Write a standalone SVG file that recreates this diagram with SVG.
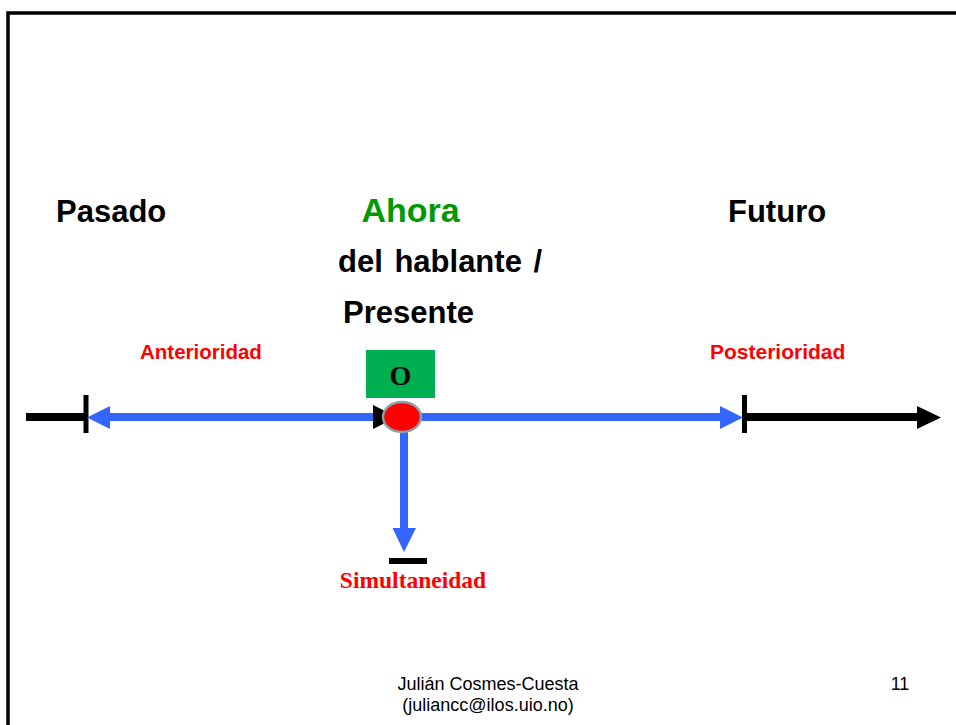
<svg xmlns="http://www.w3.org/2000/svg" width="956" height="725" viewBox="0 0 956 725">
<style>
.sans{font-family:"Liberation Sans",Arial,sans-serif;}
.serif{font-family:"Liberation Serif","Times New Roman",serif;}
.big{font-size:31px;font-weight:bold;fill:#000;}
.red{fill:#FF0000;font-weight:bold;}
.blue{stroke:#3366FF;stroke-width:8;fill:none;}
.blk{stroke:#000;fill:none;}
.foot{font-size:18px;fill:#000;}
</style>
<rect x="8" y="13" width="960" height="730" fill="none" stroke="#000" stroke-width="3.5"/>

<g id="labels">
<text class="sans big" x="56" y="222">Pasado</text>
<text class="sans" x="410.5" y="222" text-anchor="middle" font-size="34" font-weight="bold" fill="#009900">Ahora</text>
<text class="sans big" x="728" y="222">Futuro</text>
<text class="sans big" x="338" y="272" word-spacing="3">del hablante /</text>
<text class="sans big" x="343" y="323">Presente</text>
<text class="sans red" x="140" y="359" font-size="20.5">Anterioridad</text>
<text class="sans red" x="710" y="359" font-size="21">Posterioridad</text>
</g>

<g id="connectors">
<line class="blk" x1="26" y1="417" x2="88" y2="417" stroke-width="8"/>
<line class="blk" x1="86" y1="395" x2="86" y2="433" stroke-width="5"/>
<line class="blk" x1="744" y1="417" x2="918" y2="417" stroke-width="8"/>
<polygon points="917,406 941,417.5 917,429" fill="#000"/>
<line class="blk" x1="744.5" y1="395" x2="744.5" y2="433" stroke-width="5"/>
<line class="blue" x1="108" y1="417" x2="722" y2="417"/>
<polygon points="110,406 87,417.5 110,429" fill="#3366FF"/>
<polygon points="720,406 743,417.5 720,429" fill="#3366FF"/>
<polygon points="373,405 373,429 397,417" fill="#000"/>
<line class="blue" x1="404" y1="425" x2="404" y2="530"/>
<polygon points="392.5,528 416,528 404,552" fill="#3366FF"/>
<rect x="389" y="558" width="38" height="6" fill="#000"/>
</g>

<g id="origin">
<rect x="366" y="350" width="69" height="48" fill="#00B050"/>
<text class="serif" x="400.5" y="385" text-anchor="middle" font-size="28" font-weight="bold" fill="#000">O</text>
<ellipse cx="402" cy="417" rx="19" ry="15" fill="#FF0000" stroke="#8A9FA8" stroke-width="2.5"/>
</g>

<g id="simultaneidad">
<text class="serif red" x="413" y="588" text-anchor="middle" font-size="23.5">Simultaneidad</text>
</g>

<g id="footer">
<text class="sans foot" x="488" y="690" text-anchor="middle">Julián Cosmes-Cuesta</text>
<text class="sans foot" x="488" y="711" text-anchor="middle">(juliancc@ilos.uio.no)</text>
<text class="sans foot" x="900" y="690" text-anchor="middle">11</text>
</g>
</svg>
